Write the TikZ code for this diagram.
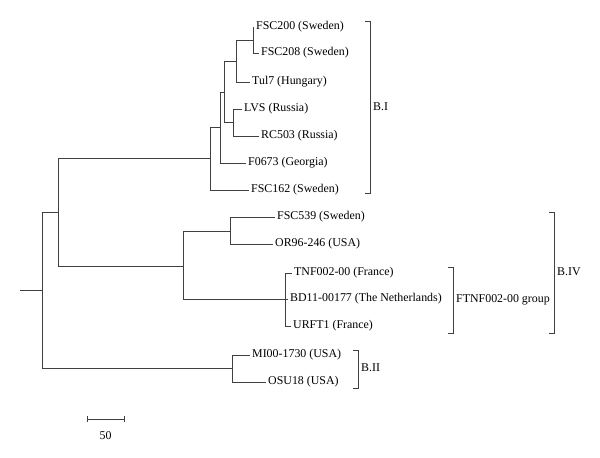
\documentclass[tikz,border=0pt]{standalone}
\usepackage{fontspec}
\setmainfont{Liberation Serif}
\begin{document}
\begin{tikzpicture}[x=1pt,y=-1pt,
    every node/.style={font=\fontsize{11.9}{13}\selectfont},
    leaf/.style={anchor=west,inner sep=2pt},
    branch/.style={draw=black!75,line width=0.85pt}]
      \useasboundingbox (0,0) rectangle (600,458);
      \draw
        (20,290) coordinate (stub)
        (42,290) coordinate (r)
        (58,212) coordinate (a)
        (210,158) coordinate (bI)
        (220,127) coordinate (c2)
        (224,92) coordinate (c3)
        (236,61) coordinate (c4)
        (253,40) coordinate (c5)
        (233,122) coordinate (c6)
        (183,266) coordinate (bIV)
        (230,231) coordinate (d1)
        (285,299) coordinate (d2)
        (232,368) coordinate (bII)
        (254,27) node[leaf] (fsc200){FSC200 (Sweden)}
        (259,53) node[leaf] (fsc208){FSC208 (Sweden)}
        (250,82) node[leaf] (tul7){Tul7 (Hungary)}
        (242,109) node[leaf] (lvs){LVS (Russia)}
        (259,136) node[leaf] (rc503){RC503 (Russia)}
        (246,163) node[leaf] (f0673){F0673 (Georgia)}
        (249,190) node[leaf] (fsc162){FSC162 (Sweden)}
        (275,217) node[leaf] (fsc539){FSC539 (Sweden)}
        (273,244) node[leaf] (or96){OR96-246 (USA)}
        (292,273) node[leaf] (tnf){TNF002-00 (France)}
        (288,299) node[leaf] (bd11){BD11-00177 (The Netherlands)}
        (291,326) node[leaf] (urft1){URFT1 (France)}
        (250,355) node[leaf] (mi00){MI00-1730 (USA)}
        (266,382) node[leaf] (osu18){OSU18 (USA)};
      \begin{scope}[branch]
        \draw (stub) -- (r);
        \draw (r) |- (a);
        \draw (r) |- (bII);
        \draw (a) |- (bI);
        \draw (a) |- (bIV);
        \draw (bI) |- (c2);
        \draw (bI) |- (fsc162.west);
        \draw (c2) |- (c3);
        \draw (c2) |- (f0673.west);
        \draw (c3) |- (c4);
        \draw (c3) |- (c6);
        \draw (c4) |- (c5);
        \draw (c4) |- (tul7.west);
        \draw (c5) |- (fsc200.west);
        \draw (c5) |- (fsc208.west);
        \draw (c6) |- (lvs.west);
        \draw (c6) |- (rc503.west);
        \draw (bIV) |- (d1);
        \draw (bIV) |- (d2);
        \draw (d1) |- (fsc539.west);
        \draw (d1) |- (or96.west);
        \draw (d2) |- (tnf.west);
        \draw (d2) |- (bd11.west);
        \draw (d2) |- (urft1.west);
        \draw (bII) |- (mi00.west);
        \draw (bII) |- (osu18.west);
      \end{scope}
      % clade brackets
      \draw
        (370,21) coordinate (bItop)
        (370,193) coordinate (bIbot)
        (370,107) node[leaf,inner sep=3pt] (bIlab){B.I}
        (453,267) coordinate (grptop)
        (453,333) coordinate (grpbot)
        (453,300) node[leaf,inner sep=3pt] (grplab){FTNF002-00 group}
        (554,212) coordinate (bIVtop)
        (554,333) coordinate (bIVbot)
        (554,272) node[leaf,inner sep=3pt] (bIVlab){B.IV}
        (358,350) coordinate (bIItop)
        (358,388) coordinate (bIIbot)
        (358,368) node[leaf,inner sep=3pt] (bIIlab){B.II};
      \begin{scope}[branch]
        \draw ([xshift=-5pt]bItop) -- (bItop) -- (bIbot) -- ([xshift=-5pt]bIbot);
        \draw ([xshift=-5pt]grptop) -- (grptop) -- (grpbot) -- ([xshift=-5pt]grpbot);
        \draw ([xshift=-5pt]bIVtop) -- (bIVtop) -- (bIVbot) -- ([xshift=-5pt]bIVbot);
        \draw ([xshift=-5pt]bIItop) -- (bIItop) -- (bIIbot) -- ([xshift=-5pt]bIIbot);
      \end{scope}
      % scale bar
      \draw
        (87,419) coordinate (sbl)
        (124,419) coordinate (sbr)
        (105.5,431) node[anchor=north,inner sep=0pt] (sblab){50};
      \begin{scope}[branch]
        \draw ([yshift=-3pt]sbl) -- ([yshift=3pt]sbl);
        \draw ([yshift=-3pt]sbr) -- ([yshift=3pt]sbr);
        \draw (sbl) -- (sbr);
      \end{scope}
    \end{tikzpicture}
\end{document}
